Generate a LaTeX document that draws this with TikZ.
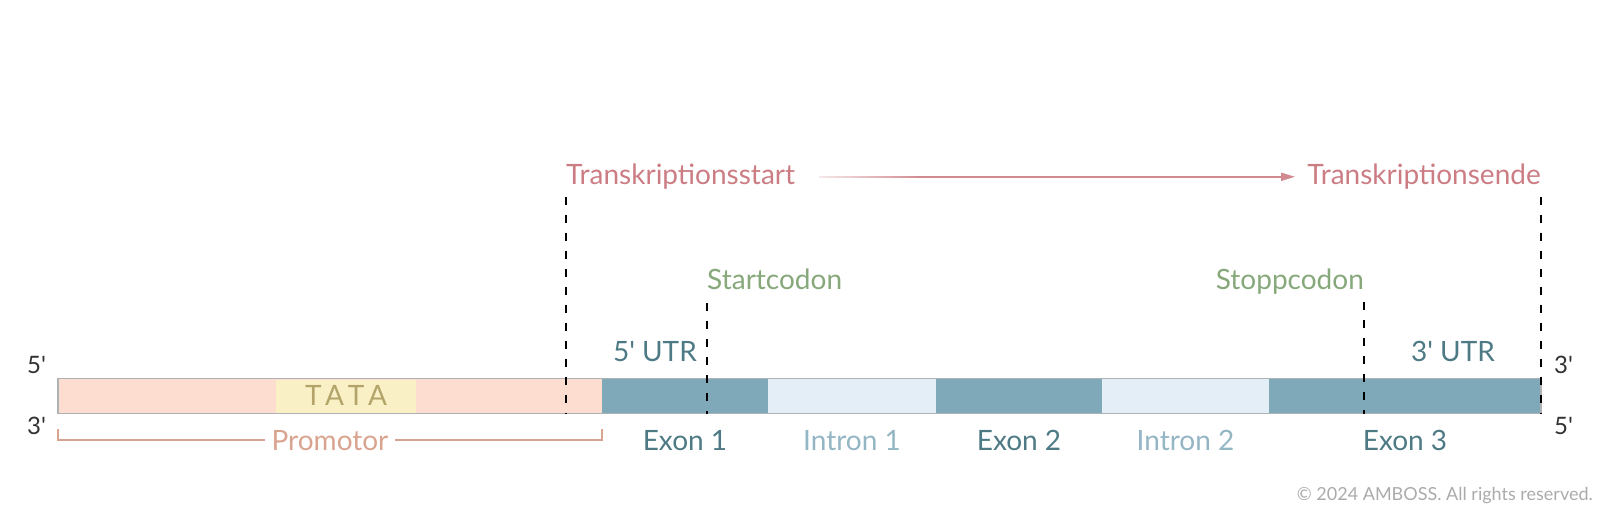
\documentclass[tikz,border=0pt]{standalone}
\usepackage{fontspec}
\setmainfont{Lato}
\usetikzlibrary{positioning,arrows.meta,fadings}
\definecolor{promofill}{HTML}{FCDDD0}
\definecolor{tatafill}{HTML}{FAF0C5}
\definecolor{tatatext}{HTML}{B3A46A}
\definecolor{exonfill}{HTML}{7FA8B8}
\definecolor{intronfill}{HTML}{E3EEF6}
\definecolor{barline}{HTML}{AEB2B5}
\definecolor{exontext}{HTML}{4E7A85}
\definecolor{introntext}{HTML}{93B5C4}
\definecolor{promotext}{HTML}{D9A48F}
\definecolor{txtext}{HTML}{CC7D84}
\definecolor{codontext}{HTML}{86A87A}
\definecolor{strandtext}{HTML}{333333}
\definecolor{copytext}{HTML}{ABABAB}

\begin{document}
\begin{tikzpicture}[x=1pt,y=-1pt,
    seg/.style={draw=none,inner sep=0,outer sep=0,minimum height=35pt,anchor=north west},
    lbl/.style={inner sep=0,font=\fontsize{28}{34}\selectfont},
    strand/.style={inner sep=0,font=\fontsize{24}{29}\selectfont,text=strandtext},
    guide/.style={draw=black,line width=1.2pt,dash pattern=on 8pt off 10pt},
    brk/.style={draw=promotext,line width=1.2pt},
    txline/.style={draw=txtext!90,line width=1.5pt},
  ]
  \useasboundingbox (0,0) rectangle (1600,507);
  % DNA-Strang
  \node[seg,fill=promofill,minimum width=544pt] (promo) at (58,378.5) {};
  \node[seg,fill=tatafill,minimum width=140.5pt,minimum height=33pt] (tata) at (275.5,379.5) {};
  \node[seg,fill=exonfill,minimum width=166pt] (ex1) at (promo.north east) {};
  \node[seg,fill=intronfill,minimum width=168pt] (in1) at (ex1.north east) {};
  \node[seg,fill=exonfill,minimum width=166pt] (ex2) at (in1.north east) {};
  \node[seg,fill=intronfill,minimum width=167pt] (in2) at (ex2.north east) {};
  \node[seg,fill=exonfill,minimum width=272pt] (ex3) at (in2.north east) {};
  \draw[barline,line width=1.5pt] (promo.north west) rectangle (ex3.south east);
  \node[inner sep=0,anchor=base,text=tatatext,font=\fontsize{28}{33}\selectfont\addfontfeature{LetterSpace=20}] (tatalbl) at (346,405) {TATA};

  % 5'/3'-Enden
  \node[strand,anchor=base west] (l5) at (27,373.5) {5\textquotesingle};
  \node[strand,anchor=base west] (l3) at (27,434.7) {3\textquotesingle};
  \node[strand,anchor=base west] (r3) at (1554,373.5) {3\textquotesingle};
  \node[strand,anchor=base west] (r5) at (1554,434.7) {5\textquotesingle};

  % Abschnitte
  \node[lbl,text=promotext,anchor=base,inner xsep=6pt] (lpromo) at (promo.south |- 0,450) {Promotor};
  \draw[brk] (promo.south west) ++(0,15.5) |- (lpromo.west);
  \draw[brk] (promo.south east) ++(0,15.5) |- (lpromo.east);
  \node[lbl,text=exontext,anchor=base] (lex1) at (ex1.south |- 0,450) {Exon 1};
  \node[lbl,text=introntext,anchor=base] (lin1) at (in1.south |- 0,450) {Intron 1};
  \node[lbl,text=exontext,anchor=base] (lex2) at (ex2.south |- 0,450) {Exon 2};
  \node[lbl,text=introntext,anchor=base] (lin2) at (in2.south |- 0,450) {Intron 2};
  \node[lbl,text=exontext,anchor=base] (lex3) at (ex3.south |- 0,450) {Exon 3};
  \node[lbl,text=exontext,anchor=base east] (utr5) at (697,361) {5\textquotesingle{} UTR};
  \node[lbl,text=exontext,anchor=base] (utr3) at (1453,361) {3\textquotesingle{} UTR};

  % Transkription
  \node[lbl,text=txtext,anchor=base west] (tstart) at (566,184.7) {Transkriptionsstart};
  \node[lbl,text=txtext,anchor=base east] (tende) at (1541,184.7) {Transkriptionsende};
  \coordinate[right=125pt of tstart.east] (fadeend);
  \draw[txline,path fading=west,shorten <=24pt] (tstart.east) -- (fadeend);
  \draw[txline,-{Triangle[length=14pt,width=8pt]},shorten >=12pt] (fadeend) -- (tende.west);
  \draw[guide] (tstart.south west) ++(0,7) -- (tstart.south west |- promo.south);
  \draw[guide] (tende.south east) ++(0,7) -- (tende.south east |- ex3.south);

  % Codons
  \node[lbl,text=codontext,anchor=base west] (startc) at (707,289.8) {Startcodon};
  \node[lbl,text=codontext,anchor=base east] (stopc) at (1364,289.8) {Stoppcodon};
  \draw[guide] (startc.south west) ++(0,13) -- (startc.south west |- ex1.south);
  \draw[guide] (stopc.south east) ++(0,7) -- (stopc.south east |- ex3.south);

  \node[inner sep=0,anchor=base east,text=copytext,font=\fontsize{18}{22}\selectfont] (copy) at (1593,500) {© 2024 AMBOSS. All rights reserved.};
\end{tikzpicture}
\end{document}
